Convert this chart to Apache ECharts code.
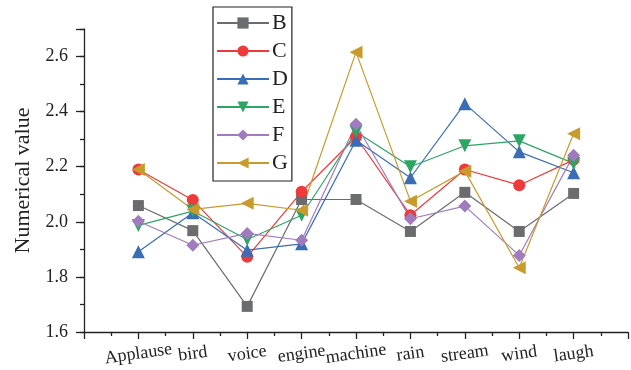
<!DOCTYPE html>
<html>
<head>
<meta charset="utf-8">
<script src="https://cdn.jsdelivr.net/npm/echarts@6/dist/echarts.min.js"></script>
<style>
html, body { margin: 0; padding: 0; background: #fff; }
#main { width: 631px; height: 370px; }
</style>
</head>
<body>
<div id="main"></div>
<script>
var categories = ['Applause', 'bird', 'voice', 'engine', 'machine', 'rain', 'stream', 'wind', 'laugh'];
var seriesNames = ['B', 'C', 'D', 'E', 'F', 'G'];
var valuesB = [2.059, 1.968, 1.693, 2.081, 2.081, 1.965, 2.107, 1.965, 2.103];
var valuesC = [2.190, 2.079, 1.873, 2.109, 2.308, 2.024, 2.190, 2.133, 2.225];
var valuesD = [1.891, 2.033, 1.897, 1.920, 2.296, 2.160, 2.429, 2.254, 2.178];
var valuesE = [1.987, 2.039, 1.936, 2.024, 2.327, 2.200, 2.276, 2.294, 2.212];
var valuesF = [2.002, 1.915, 1.958, 1.933, 2.354, 2.011, 2.057, 1.878, 2.242];
var valuesG = [2.190, 2.045, 2.067, 2.042, 2.616, 2.075, 2.184, 1.833, 2.320];
var colors = ['#6b6c70', '#ee3a3a', '#3a6db5', '#2ea565', '#a07cbf', '#c99a2c'];
var symbols = ['rect', 'circle', 'triangle', 'triangle', 'diamond', 'triangle'];
var rotates = [0, 0, 0, 180, 0, 90];
var sizes = [11, 12, 13, 13, 13, 13];

var allValues = [valuesB, valuesC, valuesD, valuesE, valuesF, valuesG];
var font = '"Liberation Serif", "Times New Roman", serif';

var chart = echarts.init(document.getElementById('main'));

var series = allValues.map(function (vals, k) {
    return {
        name: seriesNames[k],
        type: 'line',
        xAxisIndex: 0,
        yAxisIndex: 0,
        data: vals.map(function (v, i) { return [i + 1, v]; }),
        symbol: symbols[k],
        symbolSize: sizes[k],
        symbolRotate: rotates[k],
        showAllSymbol: true,
        lineStyle: { color: colors[k], width: 1.2 },
        itemStyle: { color: colors[k] },
        emphasis: { disabled: true },
        animation: false
    };
});

var option = {
    animation: false,
    grid: { left: 84, right: -8, top: 29, bottom: 38 },
    legend: {
        orient: 'vertical',
        left: 213,
        top: 7,
        padding: [5, 4, 7, 3],
        itemWidth: 52,
        itemHeight: 14,
        itemGap: 6,
        borderColor: '#222',
        borderWidth: 1.2,
        textStyle: { fontFamily: font, fontSize: 22, lineHeight: 22, color: '#222', padding: [0, 0, 0, -2] },
        data: seriesNames
    },
    xAxis: [{
        type: 'value',
        min: 0,
        max: 10,
        interval: 1,
        splitLine: { show: false },
        axisLine: { lineStyle: { color: '#222', width: 1.3 } },
        axisTick: { length: 7, lineStyle: { color: '#222', width: 1.3 } },
        minorTick: { show: true, splitNumber: 2, length: 4, lineStyle: { color: '#222', width: 1.3 } },
        axisLabel: {
            fontFamily: font,
            fontSize: 18,
            color: '#222',
            rotate: 8,
            align: 'center',
            verticalAlign: 'middle',
            margin: 22,
            formatter: function (v) {
                var i = Math.round(v);
                if (Math.abs(v - i) < 1e-6 && i >= 1 && i <= categories.length) return categories[i - 1];
                return '';
            }
        }
    }],
    yAxis: [{
        type: 'value',
        position: 'left',
        min: 1.6,
        max: 2.7,
        interval: 0.2,
        splitLine: { show: false },
        axisLine: { show: true, lineStyle: { color: '#222', width: 1.3 } },
        axisTick: { show: true, length: 8, lineStyle: { color: '#222', width: 1.3 } },
        axisLabel: {
            fontFamily: font,
            fontSize: 18,
            color: '#222',
            margin: 16,
            formatter: function (v) {
                return v > 2.65 ? '' : v.toFixed(1);
            }
        },
        name: 'Numerical value',
        nameLocation: 'middle',
        nameGap: 50,
        nameTextStyle: { fontFamily: font, fontSize: 22, color: '#222' }
    }, {
        type: 'value',
        position: 'left',
        min: 1.6,
        max: 2.7,
        interval: 0.1,
        splitLine: { show: false },
        axisLine: { show: false },
        axisTick: { show: true, length: 4, lineStyle: { color: '#222', width: 1.3 } },
        axisLabel: { show: false }
    }],
    series: series
};

chart.setOption(option);
</script>
</body>
</html>
